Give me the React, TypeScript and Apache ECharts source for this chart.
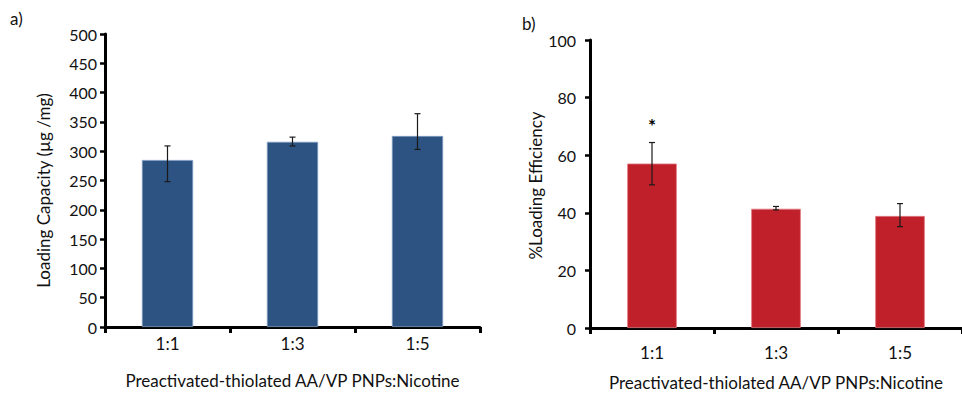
import React, { useEffect, useRef } from "react";
import * as echarts from "echarts";

const categories = ["1:1", "1:3", "1:5"];

// Panel a) Loading capacity (µg/mg)
const capacityValues = [285, 316, 326];
const capacityErrLow = [248, 309, 303];
const capacityErrHigh = [309, 324, 364];
const capacityTicks = { min: 0, max: 500, interval: 50 };

// Panel b) %Loading efficiency
const efficiencyValues = [57.1, 41.4, 38.9];
const efficiencyErrLow = [49.7, 41.0, 35.2];
const efficiencyErrHigh = [64.4, 42.2, 43.2];
const efficiencySignificance = ["*", "", ""];
const efficiencyTicks = { min: 0, max: 100, interval: 20 };

const xTitle = "Preactivated-thiolated AA/VP PNPs:Nicotine";
const yTitleA = "Loading Capacity (µg /mg)";
const yTitleB = "%Loading Efficiency";

const FONT = "Lato";

function errorRender(params: any, api: any) {
  const idx = api.value(0);
  const lo = api.coord([idx, api.value(1)]);
  const hi = api.coord([idx, api.value(2)]);
  const cap = 3;
  const style = { stroke: "#1a1a1a", lineWidth: 1.2 };
  return {
    type: "group",
    children: [
      { type: "line", shape: { x1: lo[0], y1: lo[1], x2: hi[0], y2: hi[1] }, style },
      { type: "line", shape: { x1: hi[0] - cap, y1: hi[1], x2: hi[0] + cap, y2: hi[1] }, style },
      { type: "line", shape: { x1: lo[0] - cap, y1: lo[1], x2: lo[0] + cap, y2: lo[1] }, style },
    ],
  };
}

function markRender(params: any, api: any) {
  const idx = api.value(0);
  const p = api.coord([idx, api.value(1)]);
  const mark = efficiencySignificance[idx] || "";
  return {
    type: "text",
    x: p[0],
    y: p[1] - 17,
    style: {
      text: mark,
      fill: "#000",
      font: `bold 19px ${FONT}`,
      align: "center",
      verticalAlign: "middle",
    },
  };
}

export default function App() {
  const ref = useRef<HTMLDivElement>(null);
  useEffect(() => {
    if (!ref.current) return;
    const chart = echarts.init(ref.current, undefined, { renderer: "svg" });

    const axisLine = { show: true, lineStyle: { color: "#000", width: 3 } };
    const yTick = { show: true, inside: false, length: 5, lineStyle: { color: "#000", width: 2.5 } };
    const xTick = { show: true, alignWithLabel: false, length: 6, lineStyle: { color: "#000", width: 3 } };
    const tickStyle = { color: "#111", fontFamily: FONT, fontSize: 16 };
    const titleStyle = { color: "#111", fontFamily: FONT, fontSize: 17 };

    chart.setOption({
      animation: false,
      backgroundColor: "#fff",
      textStyle: { fontFamily: FONT },
      grid: [
        { left: 105, top: 34, width: 375, height: 293 },
        { left: 590, top: 40, width: 377, height: 293 },
      ],
      xAxis: [
        {
          type: "category",
          gridIndex: 0,
          data: categories,
          boundaryGap: true,
          axisLine,
          axisTick: xTick,
          axisLabel: { ...titleStyle, margin: 8 },
          name: xTitle,
          nameLocation: "middle",
          nameGap: 45,
          nameTextStyle: { ...titleStyle },
        },
        {
          type: "category",
          gridIndex: 1,
          data: categories,
          boundaryGap: true,
          axisLine,
          axisTick: xTick,
          axisLabel: { ...titleStyle, margin: 16 },
          name: xTitle,
          nameLocation: "middle",
          nameGap: 46,
          nameTextStyle: { ...titleStyle },
        },
      ],
      yAxis: [
        {
          type: "value",
          gridIndex: 0,
          ...capacityTicks,
          axisLine,
          axisTick: yTick,
          splitLine: { show: false },
          axisLabel: { ...tickStyle, margin: 8 },
          name: yTitleA,
          nameLocation: "middle",
          nameGap: 53,
          nameTextStyle: { ...titleStyle, padding: [0, 20, 0, 0] },
        },
        {
          type: "value",
          gridIndex: 1,
          ...efficiencyTicks,
          axisLine,
          axisTick: yTick,
          splitLine: { show: false },
          axisLabel: { ...tickStyle, margin: 14 },
          name: yTitleB,
          nameLocation: "middle",
          nameGap: 44,
          nameTextStyle: { ...titleStyle, padding: [0, 3, 0, 0] },
        },
      ],
      graphic: [
        { type: "text", left: 10, top: 10, style: { text: "a)", font: `17px ${FONT}`, fill: "#111" } },
        { type: "text", left: 522, top: 15, style: { text: "b)", font: `17px ${FONT}`, fill: "#111" } },
      ],
      series: [
        {
          type: "bar",
          xAxisIndex: 0,
          yAxisIndex: 0,
          data: capacityValues,
          barWidth: "41%",
          itemStyle: { color: "#2c5381", borderColor: "#7f9cc0", borderWidth: 0.8 },
        },
        {
          type: "custom",
          xAxisIndex: 0,
          yAxisIndex: 0,
          renderItem: errorRender,
          encode: { x: 0, y: [1, 2] },
          data: categories.map((_, i) => [i, capacityErrLow[i], capacityErrHigh[i]]),
          z: 5,
        },
        {
          type: "bar",
          xAxisIndex: 1,
          yAxisIndex: 1,
          data: efficiencyValues,
          barWidth: "40%",
          itemStyle: { color: "#c0202a", borderColor: "#e27a80", borderWidth: 0.8 },
        },
        {
          type: "custom",
          xAxisIndex: 1,
          yAxisIndex: 1,
          renderItem: errorRender,
          encode: { x: 0, y: [1, 2] },
          data: categories.map((_, i) => [i, efficiencyErrLow[i], efficiencyErrHigh[i]]),
          z: 5,
        },
        {
          type: "custom",
          xAxisIndex: 1,
          yAxisIndex: 1,
          renderItem: markRender,
          encode: { x: 0, y: 1 },
          data: categories.map((_, i) => [i, efficiencyErrHigh[i]]),
          z: 6,
        },
      ],
    });
    return () => chart.dispose();
  }, []);
  return (
    <div
      ref={ref}
      style={{ position: "fixed", left: 0, top: 0, width: 962, height: 396 }}
    />
  );
}
